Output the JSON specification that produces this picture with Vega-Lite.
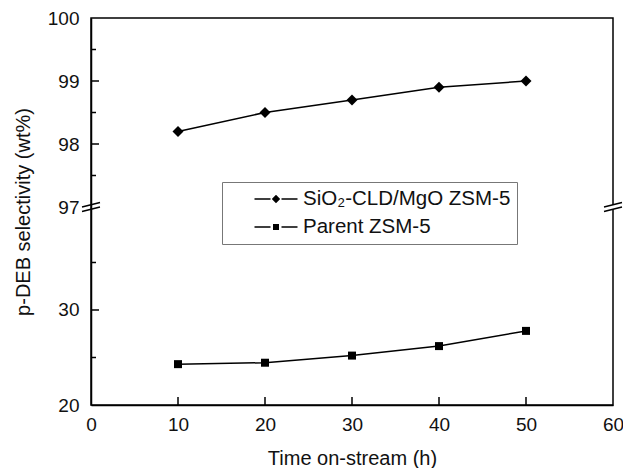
{
  "$schema": "https://vega.github.io/schema/vega-lite/v6.json",
  "width": 522,
  "height": 387,
  "autosize": {"type": "none"},
  "padding": {"left": 91, "top": 18, "right": 10, "bottom": 63},
  "background": "white",
  "config": {
    "font": "Liberation Sans",
    "view": {"stroke": "black", "strokeWidth": 1.5},
    "axis": {
      "grid": false,
      "ticks": false,
      "tickSize": 0,
      "domainColor": "black",
      "domainWidth": 1.5,
      "labelColor": "#111",
      "labelFont": "Liberation Sans",
      "labelFontSize": 19,
      "titleFont": "Liberation Sans",
      "titleFontSize": 20,
      "titleFontWeight": "normal",
      "titleColor": "#111",
      "labelOverlap": false,
      "labelFlush": false
    }
  },
  "datasets": {
    "main": [
      {"t": 10, "v": 98.2, "series": "SiO₂-CLD/MgO ZSM-5"},
      {"t": 20, "v": 98.5, "series": "SiO₂-CLD/MgO ZSM-5"},
      {"t": 30, "v": 98.7, "series": "SiO₂-CLD/MgO ZSM-5"},
      {"t": 40, "v": 98.9, "series": "SiO₂-CLD/MgO ZSM-5"},
      {"t": 50, "v": 99.0, "series": "SiO₂-CLD/MgO ZSM-5"},
      {"t": 10, "v": 24.3, "series": "Parent ZSM-5"},
      {"t": 20, "v": 24.45, "series": "Parent ZSM-5"},
      {"t": 30, "v": 25.2, "series": "Parent ZSM-5"},
      {"t": 40, "v": 26.2, "series": "Parent ZSM-5"},
      {"t": 50, "v": 27.8, "series": "Parent ZSM-5"}
    ],
    "ticks": [
      {"t": 10, "v": 20, "kind": "x"},
      {"t": 20, "v": 20, "kind": "x"},
      {"t": 30, "v": 20, "kind": "x"},
      {"t": 40, "v": 20, "kind": "x"},
      {"t": 50, "v": 20, "kind": "x"},
      {"t": 0, "v": 30, "kind": "ymajor"},
      {"t": 0, "v": 98, "kind": "ymajor"},
      {"t": 0, "v": 99, "kind": "ymajor"},
      {"t": 0, "v": 25, "kind": "yminor"},
      {"t": 0, "v": 35, "kind": "yminor"},
      {"t": 0, "v": 97.5, "kind": "yminor"},
      {"t": 0, "v": 98.5, "kind": "yminor"},
      {"t": 0, "v": 99.5, "kind": "yminor"}
    ],
    "breaks": [
      {"t": 0, "v": 97, "side": "left"},
      {"t": 60, "v": 97, "side": "right"}
    ]
  },
  "layer": [
    {
      "data": {"name": "main"},
      "mark": {"type": "line", "color": "black", "strokeWidth": 1.5},
      "encoding": {
        "x": {
          "field": "t", "type": "quantitative",
          "scale": {"domain": [0, 60], "nice": false, "zero": false},
          "axis": {
            "title": "Time on-stream (h)",
            "values": [0, 10, 20, 30, 40, 50, 60],
            "labelPadding": 10,
            "titlePadding": 14
          }
        },
        "y": {
          "field": "v", "type": "quantitative",
          "scale": {"domain": [20, 40.84, 97, 100], "range": [387, 189, 189, 0], "nice": false, "zero": false},
          "axis": {
            "title": "p-DEB selectivity (wt%)",
            "values": [20, 25, 30, 35, 97, 97.5, 98, 98.5, 99, 99.5, 100],
            "labelExpr": "(datum.value == 25 || datum.value == 35 || datum.value == 97.5 || datum.value == 98.5 || datum.value == 99.5) ? '' : datum.label",
            "labelPadding": 12,
            "titlePadding": 14
          }
        },
        "detail": {"field": "series", "type": "nominal"}
      }
    },
    {
      "data": {"name": "ticks"},
      "transform": [{"filter": "datum.kind == 'x'"}],
      "mark": {"type": "tick", "orient": "vertical", "color": "black", "opacity": 1, "size": 8, "thickness": 1.5, "yOffset": -4},
      "encoding": {
        "x": {"field": "t", "type": "quantitative"},
        "y": {"field": "v", "type": "quantitative"}
      }
    },
    {
      "data": {"name": "ticks"},
      "transform": [{"filter": "datum.kind == 'ymajor'"}],
      "mark": {"type": "tick", "orient": "horizontal", "color": "black", "opacity": 1, "size": 8, "thickness": 1.5, "xOffset": 4},
      "encoding": {
        "x": {"field": "t", "type": "quantitative"},
        "y": {"field": "v", "type": "quantitative"}
      }
    },
    {
      "data": {"name": "ticks"},
      "transform": [{"filter": "datum.kind == 'yminor'"}],
      "mark": {"type": "tick", "orient": "horizontal", "color": "black", "opacity": 1, "size": 5, "thickness": 1.5, "xOffset": 2.5},
      "encoding": {
        "x": {"field": "t", "type": "quantitative"},
        "y": {"field": "v", "type": "quantitative"}
      }
    },
    {
      "data": {"name": "main"},
      "transform": [{"filter": "datum.series != 'Parent ZSM-5'"}],
      "mark": {"type": "point", "filled": true, "color": "black", "opacity": 1, "size": 121, "shape": "diamond"},
      "encoding": {
        "x": {"field": "t", "type": "quantitative"},
        "y": {"field": "v", "type": "quantitative"}
      }
    },
    {
      "data": {"name": "main"},
      "transform": [{"filter": "datum.series == 'Parent ZSM-5'"}],
      "mark": {"type": "point", "filled": true, "color": "black", "opacity": 1, "size": 64, "shape": "square"},
      "encoding": {
        "x": {"field": "t", "type": "quantitative"},
        "y": {"field": "v", "type": "quantitative"}
      }
    },
    {
      "data": {"name": "main"},
      "mark": {"type": "point", "filled": true, "color": "black", "size": 0},
      "encoding": {
        "x": {"field": "t", "type": "quantitative"},
        "y": {"field": "v", "type": "quantitative"},
        "shape": {
          "field": "series", "type": "nominal",
          "scale": {
            "domain": ["SiO₂-CLD/MgO ZSM-5", "Parent ZSM-5"],
            "range": [
              "M-2.15,-0.075H-0.55V0.075H-2.15ZM0,-0.42L0.42,0L0,0.42L-0.42,0ZM0.55,-0.075H2.15V0.075H0.55Z",
              "M-2.15,-0.075H-0.55V0.075H-2.15ZM-0.3,-0.3H0.3V0.3H-0.3ZM0.55,-0.075H2.15V0.075H0.55Z"
            ]
          },
          "legend": {
            "title": null,
            "orient": "none",
            "legendX": 131,
            "legendY": 164,
            "direction": "vertical",
            "padding": 6,
            "rowPadding": 6,
            "symbolSize": 400,
            "symbolOffset": 37,
            "labelOffset": 16,
            "labelFontSize": 20.5,
            "labelFont": "Liberation Sans",
            "labelColor": "#111",
            "labelLimit": 400,
            "strokeColor": "#777",
            "fillColor": "white",
            "symbolFillColor": "black",
            "symbolOpacity": 1
          }
        }
      }
    },
    {
      "data": {"name": "breaks"},
      "transform": [{"filter": "datum.side == 'right'"}],
      "mark": {"type": "point", "filled": true, "fill": "white", "strokeWidth": 0, "opacity": 1, "size": 324, "shape": "M-1,0L1,-0.5L1,0L-1,0.5Z"},
      "encoding": {
        "x": {"field": "t", "type": "quantitative"},
        "y": {"field": "v", "type": "quantitative"}
      }
    },
    {
      "data": {"name": "breaks"},
      "mark": {"type": "point", "filled": false, "stroke": "black", "strokeWidth": 1.3, "opacity": 1, "size": 324, "shape": "M-1,0L1,-0.5M-1,0.5L1,0"},
      "encoding": {
        "x": {"field": "t", "type": "quantitative"},
        "y": {"field": "v", "type": "quantitative"}
      }
    }
  ]
}
